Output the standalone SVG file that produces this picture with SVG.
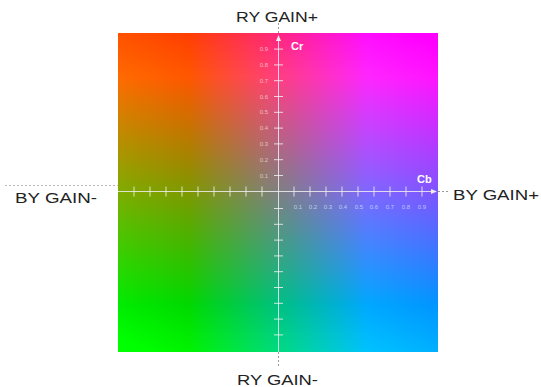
<svg xmlns="http://www.w3.org/2000/svg" width="541" height="387" viewBox="0 0 541 387">
<style>
.lbl{font-family:"Liberation Sans",Arial,sans-serif;font-size:15px;fill:#222}
.ax{stroke:#f0eef0;stroke-width:1;stroke-opacity:0.85;fill:none}
.tk{stroke:#f0eef0;stroke-width:1;stroke-opacity:0.85}
.out{stroke:#9a9a9a;stroke-width:1;stroke-dasharray:2 2;fill:none}
.tl{font-family:"Liberation Sans",Arial,sans-serif;font-size:6px;fill:#ffffff;fill-opacity:0.6}
.cl{font-family:"Liberation Sans",Arial,sans-serif;font-size:11px;font-weight:bold;fill:#ffffff}
</style>
<defs>
<linearGradient id="gr" gradientUnits="userSpaceOnUse" x1="0" y1="76.9" x2="0" y2="305"><stop offset="0" stop-color="#ff0000"/><stop offset="1" stop-color="#000000"/></linearGradient>
<linearGradient id="gb" gradientUnits="userSpaceOnUse" x1="188" y1="0" x2="368" y2="0"><stop offset="0" stop-color="#000000"/><stop offset="1" stop-color="#0000ff"/></linearGradient>
<linearGradient id="gg" gradientUnits="userSpaceOnUse" x1="365.6" y1="9.1" x2="190.4" y2="372.9"><stop offset="0" stop-color="#000000"/><stop offset="1" stop-color="#00ff00"/></linearGradient>
</defs>
<rect width="541" height="387" fill="#ffffff"/>
<g id="plane" style="isolation:isolate">
<rect x="118" y="33" width="320" height="319" fill="url(#gr)"/>
<rect x="118" y="33" width="320" height="319" fill="url(#gg)" style="mix-blend-mode:screen"/>
<rect x="118" y="33" width="320" height="319" fill="url(#gb)" style="mix-blend-mode:screen"/>
</g>
<g id="connectors">
<line class="out" x1="278.5" y1="23" x2="278.5" y2="33"/>
<line class="out" x1="278.5" y1="352" x2="278.5" y2="366"/>
<line class="out" x1="5" y1="185.5" x2="118" y2="185.5" stroke-opacity="0.7"/>
<line class="out" x1="438" y1="191.5" x2="450" y2="191.5"/>
<line class="ax" x1="278.5" y1="40" x2="278.5" y2="352"/>
<line class="ax" x1="118" y1="191.5" x2="432" y2="191.5"/>
<polygon points="278.5,35 276,41 281,41" fill="#f0eef0"/>
<polygon points="437,191.5 431,189 431,194" fill="#f0eef0"/>
<g class="tk">
<line x1="134" y1="186.5" x2="134" y2="196.5"/><line x1="150" y1="186.5" x2="150" y2="196.5"/><line x1="166" y1="186.5" x2="166" y2="196.5"/><line x1="182" y1="186.5" x2="182" y2="196.5"/><line x1="198" y1="186.5" x2="198" y2="196.5"/><line x1="214" y1="186.5" x2="214" y2="196.5"/><line x1="230" y1="186.5" x2="230" y2="196.5"/><line x1="246" y1="186.5" x2="246" y2="196.5"/><line x1="262" y1="186.5" x2="262" y2="196.5"/>
<line x1="294" y1="186.5" x2="294" y2="196.5"/><line x1="310" y1="186.5" x2="310" y2="196.5"/><line x1="326" y1="186.5" x2="326" y2="196.5"/><line x1="342" y1="186.5" x2="342" y2="196.5"/><line x1="358" y1="186.5" x2="358" y2="196.5"/><line x1="374" y1="186.5" x2="374" y2="196.5"/><line x1="390" y1="186.5" x2="390" y2="196.5"/><line x1="406" y1="186.5" x2="406" y2="196.5"/><line x1="422" y1="186.5" x2="422" y2="196.5"/>
<line x1="274" y1="175.5" x2="283" y2="175.5"/><line x1="274" y1="159.7" x2="283" y2="159.7"/><line x1="274" y1="143.9" x2="283" y2="143.9"/><line x1="274" y1="128.1" x2="283" y2="128.1"/><line x1="274" y1="112.3" x2="283" y2="112.3"/><line x1="274" y1="96.5" x2="283" y2="96.5"/><line x1="274" y1="80.7" x2="283" y2="80.7"/><line x1="274" y1="64.9" x2="283" y2="64.9"/><line x1="274" y1="49.1" x2="283" y2="49.1"/>
<line x1="274" y1="208.5" x2="283" y2="208.5"/><line x1="274" y1="224.3" x2="283" y2="224.3"/><line x1="274" y1="240.1" x2="283" y2="240.1"/><line x1="274" y1="255.9" x2="283" y2="255.9"/><line x1="274" y1="271.7" x2="283" y2="271.7"/><line x1="274" y1="287.5" x2="283" y2="287.5"/><line x1="274" y1="303.3" x2="283" y2="303.3"/><line x1="274" y1="319.1" x2="283" y2="319.1"/><line x1="274" y1="334.9" x2="283" y2="334.9"/>
</g>
</g>
<g id="tick-labels">
<g text-anchor="end">
<text class="tl" x="268" y="177.5">0.1</text><text class="tl" x="268" y="161.7">0.2</text><text class="tl" x="268" y="145.9">0.3</text><text class="tl" x="268" y="130.1">0.4</text><text class="tl" x="268" y="114.3">0.5</text><text class="tl" x="268" y="98.5">0.6</text><text class="tl" x="268" y="82.7">0.7</text><text class="tl" x="268" y="66.9">0.8</text><text class="tl" x="268" y="51.1">0.9</text>
</g>
<g text-anchor="middle">
<text class="tl" x="298" y="209">0.1</text><text class="tl" x="313" y="209">0.2</text><text class="tl" x="328" y="209">0.3</text><text class="tl" x="343" y="209">0.4</text><text class="tl" x="359" y="209">0.5</text><text class="tl" x="374" y="209">0.6</text><text class="tl" x="390" y="209">0.7</text><text class="tl" x="406" y="209">0.8</text><text class="tl" x="422" y="209">0.9</text>
</g>
</g>
<g id="axis-names">
<text class="cl" x="291" y="50">Cr</text>
<text class="cl" x="417" y="183">Cb</text>
</g>
<g id="label-ry-plus"><text class="lbl" x="236" y="22" textLength="82" lengthAdjust="spacingAndGlyphs">RY GAIN+</text></g>
<g id="label-ry-minus"><text class="lbl" x="237" y="385" textLength="81" lengthAdjust="spacingAndGlyphs">RY GAIN-</text></g>
<g id="label-by-minus"><text class="lbl" x="15" y="203" textLength="82" lengthAdjust="spacingAndGlyphs">BY GAIN-</text></g>
<g id="label-by-plus"><text class="lbl" x="453" y="200" textLength="86" lengthAdjust="spacingAndGlyphs">BY GAIN+</text></g>
</svg>
